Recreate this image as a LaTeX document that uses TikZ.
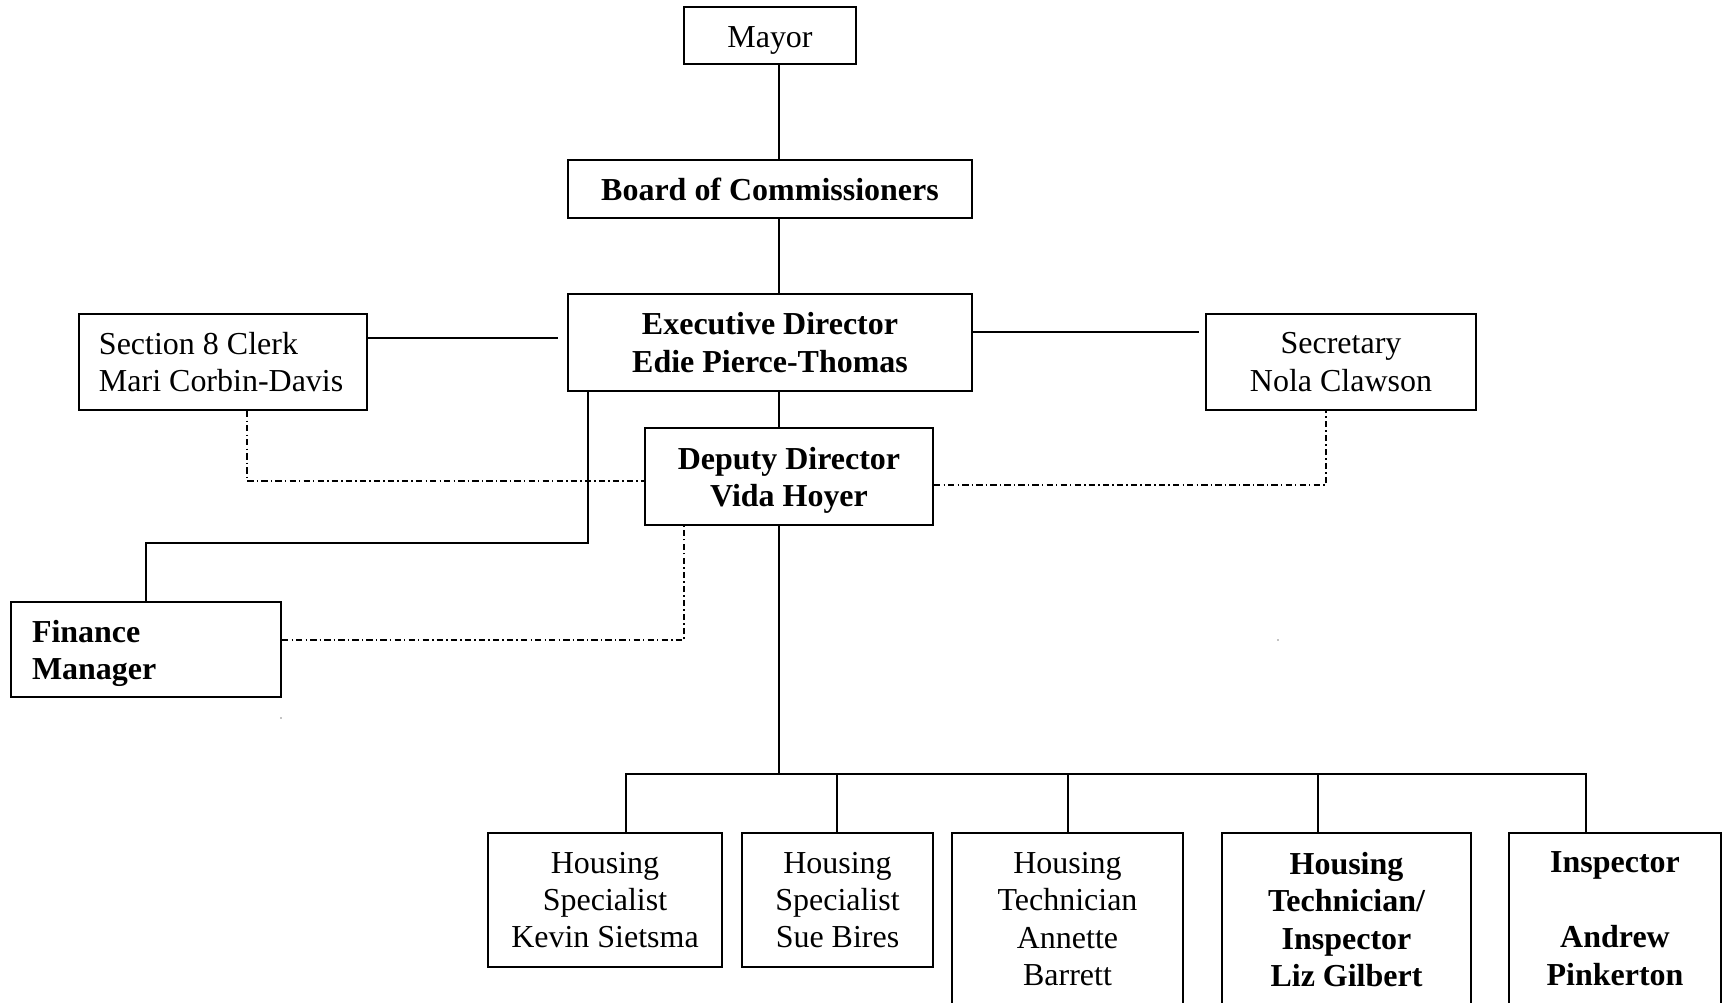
\documentclass[tikz,border=0pt]{standalone}
\usepackage{fontspec}
\setmainfont{Liberation Serif}
\usetikzlibrary{positioning}
\newcommand\chartfont{\fontsize{9.1pt}{10.64pt}\selectfont}
\newcommand\capstrut{\rule{0pt}{3mm}}

\begin{document}
\begin{tikzpicture}[
    font=\chartfont,
    post/.style={draw, line width=0.6pt, align=center, inner sep=0pt},
    lpost/.style={draw, line width=0.6pt, align=flush left, inner ysep=0pt, inner xsep=0.2cm},
    staff/.style={draw, line width=0.6pt, align=center, anchor=north, inner xsep=0pt, inner ysep=0.19cm},
    link/.style={line width=0.5pt},
    dlink/.style={line width=0.5pt, dash pattern=on 1.8pt off 0.9pt on 0.4pt off 0.9pt}
]
\useasboundingbox (0,0) rectangle (17.26,-10.03);

\node[post, minimum width=1.72cm, minimum height=0.57cm] (mayor) at (7.70,-0.355) {\capstrut Mayor};
\node[post, minimum width=4.04cm, minimum height=0.58cm, font=\chartfont\bfseries] (board) at (7.70,-1.89) {Board of Commissioners};
\node[post, minimum width=4.04cm, minimum height=0.97cm, font=\chartfont\bfseries] (exec) at (7.70,-3.425) {Executive Director\\Edie Pierce-Thomas};
\node[lpost, text width=2.48cm, minimum height=0.96cm] (clerk) at (2.23,-3.62) {Section 8 Clerk\\Mari Corbin-Davis};
\node[post, minimum width=2.70cm, minimum height=0.96cm] (secr) at (13.41,-3.62) {Secretary\\Nola Clawson};
\node[post, minimum width=2.88cm, minimum height=0.97cm, font=\chartfont\bfseries] (deputy) at (7.89,-4.765) {\capstrut Deputy Director\\Vida Hoyer};
\node[lpost, text width=2.28cm, inner xsep=0.21cm, minimum height=0.95cm, font=\chartfont\bfseries] (fin) at (1.46,-6.495) {\capstrut Finance\\Manager};

\node[staff, inner ysep=0pt, minimum width=2.34cm, minimum height=1.34cm] (kevin) at (6.05,-8.32) {Housing\\Specialist\\Kevin Sietsma};
\node[staff, inner ysep=0pt, minimum width=1.91cm, minimum height=1.34cm] (sue) at (8.375,-8.32) {Housing\\Specialist\\Sue Bires};
\node[staff, minimum width=2.31cm] (ann) at (10.675,-8.32) {Housing\\Technician\\Annette\\Barrett\\[0.3cm]};
\node[staff, minimum width=2.49cm, font=\chartfont\bfseries] (liz) at (13.465,-8.32) {Housing\\Technician/\\Inspector\\Liz Gilbert\\[0.3cm]};
\node[staff, minimum width=2.12cm, font=\chartfont\bfseries] (insp) at (16.15,-8.32) {Inspector\\[0.374cm]Andrew\\Pinkerton\\[0.3cm]};

\coordinate (spine) at (7.79,-7.74);
\coordinate (fbend) at (5.88,-5.43);

\draw[link] (mayor.south -| spine) -- (board.north -| spine);
\draw[link] (board.south -| spine) -- (exec.north -| spine);
\draw[link] (exec.south -| spine) -- (deputy.north -| spine);
\draw[link] (deputy.south -| spine) -- (spine);
\draw[link, shorten >=0.9mm] ([yshift=2.4mm]clerk.east) -- ([yshift=2.4mm]clerk.east -| exec.west);
\draw[link, shorten >=0.6mm] ([yshift=1.05mm]exec.east) -- ([yshift=1.05mm]exec.east -| secr.west);
\draw[link] (exec.south -| fbend) -- (fbend) -| (fin.north);

\draw[dlink] (clerk.south -| 2.47,0) |- ([yshift=-0.45mm]deputy.west);
\draw[dlink] ([yshift=-0.85mm]deputy.east) -| (secr.south -| 13.26,0);
\draw[dlink] ([yshift=0.95mm]fin.east) -| (deputy.south -| 6.84,0);

\foreach \n/\x in {kevin/6.26, sue/8.37, ann/10.68, liz/13.18, insp/15.86}
  \draw[link] (spine) -| (\n.north -| \x,0);

\fill (2.81,-7.18) circle (0.007);
\fill (12.78,-6.40) circle (0.007);
\end{tikzpicture}
\end{document}
